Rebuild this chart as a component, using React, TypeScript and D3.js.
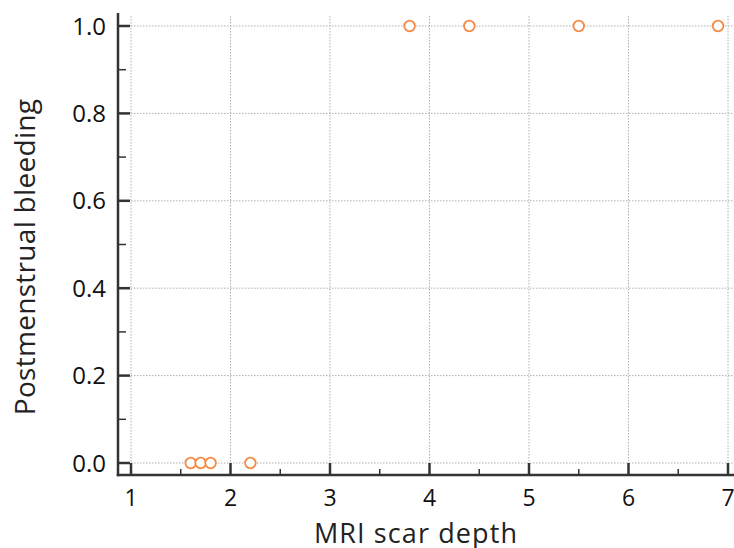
import React, { useRef, useEffect } from 'react';
import * as d3 from 'd3';

// MRI scar depth vs postmenstrual bleeding (0 / 1)
const scarDepth = [1.6, 1.7, 1.8, 2.2, 3.8, 4.4, 5.5, 6.9];
const bleeding = [0, 0, 0, 0, 1, 1, 1, 1];
const xTicks = [1, 2, 3, 4, 5, 6, 7];
const yTicks = [0, 0.2, 0.4, 0.6, 0.8, 1.0];

const App = () => {
  const svgRef = useRef<SVGSVGElement>(null);

  useEffect(() => {
    const width = 734;
    const height = 548;
    const font = '"Open Sans", sans-serif';

    const svg = d3.select(svgRef.current);
    svg.selectAll('*').remove();
    svg.attr('viewBox', `0 0 ${width} ${height}`);

    const x = d3.scaleLinear().domain([1, 7]).range([131, 728]);
    const y = d3.scaleLinear().domain([0, 1]).range([463, 26]);
    const axisX = 118;
    const axisY = 475;

    // grid
    const grid = svg.append('g')
      .attr('stroke', '#b0b0b0')
      .attr('stroke-width', 1)
      .attr('stroke-dasharray', '1.5,1.5');
    xTicks.forEach((t) => {
      grid.append('line')
        .attr('x1', x(t)).attr('x2', x(t))
        .attr('y1', 16).attr('y2', y(0));
    });
    yTicks.forEach((t) => {
      grid.append('line')
        .attr('x1', x(1)).attr('x2', width)
        .attr('y1', y(t)).attr('y2', y(t));
    });

    // axes
    const axes = svg.append('g').attr('stroke', '#333');
    axes.append('line')
      .attr('x1', axisX).attr('x2', axisX)
      .attr('y1', 13).attr('y2', axisY + 1.25)
      .attr('stroke-width', 2.5);
    axes.append('line')
      .attr('x1', axisX - 1.25).attr('x2', width)
      .attr('y1', axisY).attr('y2', axisY)
      .attr('stroke-width', 2.5);

    yTicks.forEach((t) => {
      axes.append('line')
        .attr('x1', axisX).attr('x2', x(1) - 1)
        .attr('y1', y(t)).attr('y2', y(t))
        .attr('stroke-width', 2.5);
    });
    d3.range(0.1, 1, 0.2).forEach((t) => {
      axes.append('line')
        .attr('x1', axisX).attr('x2', axisX + 8)
        .attr('y1', y(t)).attr('y2', y(t))
        .attr('stroke-width', 1.5);
    });
    xTicks.forEach((t) => {
      axes.append('line')
        .attr('x1', x(t)).attr('x2', x(t))
        .attr('y1', axisY).attr('y2', y(0))
        .attr('stroke-width', 2.5);
    });
    d3.range(1.5, 7, 1).forEach((t) => {
      axes.append('line')
        .attr('x1', x(t)).attr('x2', x(t))
        .attr('y1', axisY).attr('y2', axisY - 6)
        .attr('stroke-width', 1.5);
    });

    // tick labels
    svg.append('g')
      .selectAll('text')
      .data(yTicks)
      .join('text')
      .attr('x', 106)
      .attr('y', (d) => y(d) + 8.5)
      .attr('text-anchor', 'end')
      .attr('font-family', font)
      .attr('font-size', 24)
      .attr('fill', '#111')
      .text((d) => d3.format('.1f')(d));

    svg.append('g')
      .selectAll('text')
      .data(xTicks)
      .join('text')
      .attr('x', (d) => x(d))
      .attr('y', 506)
      .attr('text-anchor', 'middle')
      .attr('font-family', font)
      .attr('font-size', 23)
      .attr('fill', '#111')
      .text((d) => d);

    // axis titles
    svg.append('text')
      .attr('x', 416)
      .attr('y', 543)
      .attr('text-anchor', 'middle')
      .attr('font-family', font)
      .attr('font-size', 27)
      .attr('letter-spacing', 1.1)
      .attr('fill', '#222')
      .text('MRI scar depth');

    svg.append('text')
      .attr('transform', 'translate(35,257) rotate(-90)')
      .attr('text-anchor', 'middle')
      .attr('font-family', font)
      .attr('font-size', 28)
      .attr('letter-spacing', 0.3)
      .attr('fill', '#222')
      .text('Postmenstrual bleeding');

    // points
    svg.append('g')
      .selectAll('circle')
      .data(scarDepth.map((d, i) => ({ x: d, y: bleeding[i] })))
      .join('circle')
      .attr('cx', (d) => x(d.x))
      .attr('cy', (d) => y(d.y))
      .attr('r', 5.3)
      .attr('fill', '#fff')
      .attr('stroke', '#f58a45')
      .attr('stroke-width', 1.8);
  }, []);

  return (
    <svg
      ref={svgRef}
      width={734}
      height={548}
      style={{ position: 'absolute', left: 0, top: 0, background: '#fff' }}
    />
  );
};

export default App;
